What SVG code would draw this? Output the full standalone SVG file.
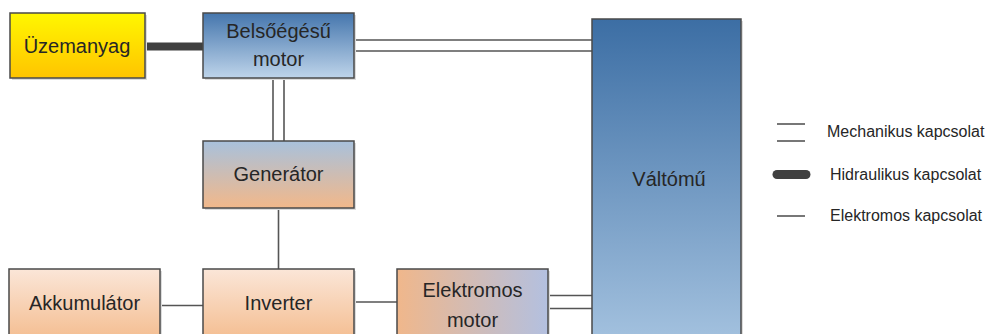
<svg xmlns="http://www.w3.org/2000/svg" width="998" height="334" viewBox="0 0 998 334">
<defs>
  <linearGradient id="gYellow" x1="0" y1="0" x2="0" y2="1">
    <stop offset="0" stop-color="#fff700"/>
    <stop offset="1" stop-color="#ffc400"/>
  </linearGradient>
  <linearGradient id="gBlue" x1="0" y1="0" x2="0" y2="1">
    <stop offset="0" stop-color="#4576ad"/>
    <stop offset="1" stop-color="#bed4ea"/>
  </linearGradient>
  <linearGradient id="gGen" x1="0" y1="0" x2="0" y2="1">
    <stop offset="0" stop-color="#a8c1dc"/>
    <stop offset="1" stop-color="#f2b88a"/>
  </linearGradient>
  <linearGradient id="gPeach" x1="0" y1="0" x2="0" y2="1">
    <stop offset="0" stop-color="#fbe6d8"/>
    <stop offset="1" stop-color="#f3b887"/>
  </linearGradient>
  <linearGradient id="gEM" x1="0" y1="0" x2="1" y2="0">
    <stop offset="0" stop-color="#f0b78b"/>
    <stop offset="1" stop-color="#b3c0e0"/>
  </linearGradient>
  <linearGradient id="gGear" x1="0" y1="0" x2="0" y2="1">
    <stop offset="0" stop-color="#3c6ea4"/>
    <stop offset="1" stop-color="#a9c6e2"/>
  </linearGradient>
</defs>
<style>
  .box { stroke: #4a4a4a; stroke-width: 1.5; }
  .shadow { fill: #dcdcdc; }
  .lbl { font-family: "Liberation Sans", Arial, sans-serif; font-size: 20px; fill: #262626; text-anchor: middle; }
  .leg { font-family: "Liberation Sans", Arial, sans-serif; font-size: 16px; fill: #262626; }
  .mech { stroke: #555555; stroke-width: 1.6; fill: none; }
  .elec { stroke: #555555; stroke-width: 1.6; fill: none; }
  .hyd { stroke: #404040; stroke-width: 8; fill: none; }
</style>

<g id="connectors">
  <line class="hyd" x1="145" y1="46.5" x2="203" y2="46.5"/>
  <line class="mech" x1="354" y1="40" x2="592" y2="40"/>
  <line class="mech" x1="354" y1="51" x2="592" y2="51"/>
  <line class="mech" x1="273" y1="78" x2="273" y2="141"/>
  <line class="mech" x1="284" y1="78" x2="284" y2="141"/>
  <line class="elec" x1="278.5" y1="208" x2="278.5" y2="269"/>
  <line class="elec" x1="160" y1="305.5" x2="203" y2="305.5"/>
  <line class="elec" x1="354" y1="302" x2="397" y2="302"/>
  <line class="mech" x1="548" y1="295.5" x2="592" y2="295.5"/>
  <line class="mech" x1="548" y1="308.5" x2="592" y2="308.5"/>
</g>

<g id="uzemanyag">
  <rect class="shadow" x="12" y="15" width="135" height="65"/>
  <rect class="box" x="10" y="13" width="135" height="65" fill="url(#gYellow)"/>
  <text class="lbl" x="77" y="53">Üzemanyag</text>
</g>

<g id="belsoegesu-motor">
  <rect class="shadow" x="205" y="15" width="151" height="65"/>
  <rect class="box" x="203" y="13" width="151" height="65" fill="url(#gBlue)"/>
  <text class="lbl" x="278.5" y="38">Belsőégésű</text>
  <text class="lbl" x="278.5" y="66">motor</text>
</g>

<g id="generator">
  <rect class="shadow" x="205" y="143" width="151" height="67"/>
  <rect class="box" x="203" y="141" width="151" height="67" fill="url(#gGen)"/>
  <text class="lbl" x="278.5" y="181">Generátor</text>
</g>

<g id="akkumulator">
  <rect class="shadow" x="11" y="271" width="151" height="80"/>
  <rect class="box" x="9" y="269" width="151" height="80" fill="url(#gPeach)"/>
  <text class="lbl" x="84.5" y="310">Akkumulátor</text>
</g>

<g id="inverter">
  <rect class="shadow" x="205" y="271" width="151" height="80"/>
  <rect class="box" x="203" y="269" width="151" height="80" fill="url(#gPeach)"/>
  <text class="lbl" x="278.5" y="310">Inverter</text>
</g>

<g id="elektromos-motor">
  <rect class="shadow" x="399" y="271" width="151" height="80"/>
  <rect class="box" x="397" y="269" width="151" height="80" fill="url(#gEM)"/>
  <text class="lbl" x="472.5" y="297">Elektromos</text>
  <text class="lbl" x="472.5" y="327">motor</text>
</g>

<g id="valtomu">
  <rect class="shadow" x="594" y="21" width="149" height="340"/>
  <rect class="box" x="592" y="19" width="149" height="340" fill="url(#gGear)"/>
  <text class="lbl" x="669" y="186">Váltómű</text>
</g>

<g id="legend">
  <line class="mech" x1="777" y1="124" x2="805" y2="124"/>
  <line class="mech" x1="777" y1="141" x2="805" y2="141"/>
  <text class="leg" x="827" y="137">Mechanikus kapcsolat</text>
  <line x1="777" y1="174.5" x2="806" y2="174.5" stroke="#404040" stroke-width="9" stroke-linecap="round"/>
  <text class="leg" x="830" y="180">Hidraulikus kapcsolat</text>
  <line class="elec" x1="777" y1="216" x2="805" y2="216"/>
  <text class="leg" x="830" y="221">Elektromos kapcsolat</text>
</g>
</svg>
